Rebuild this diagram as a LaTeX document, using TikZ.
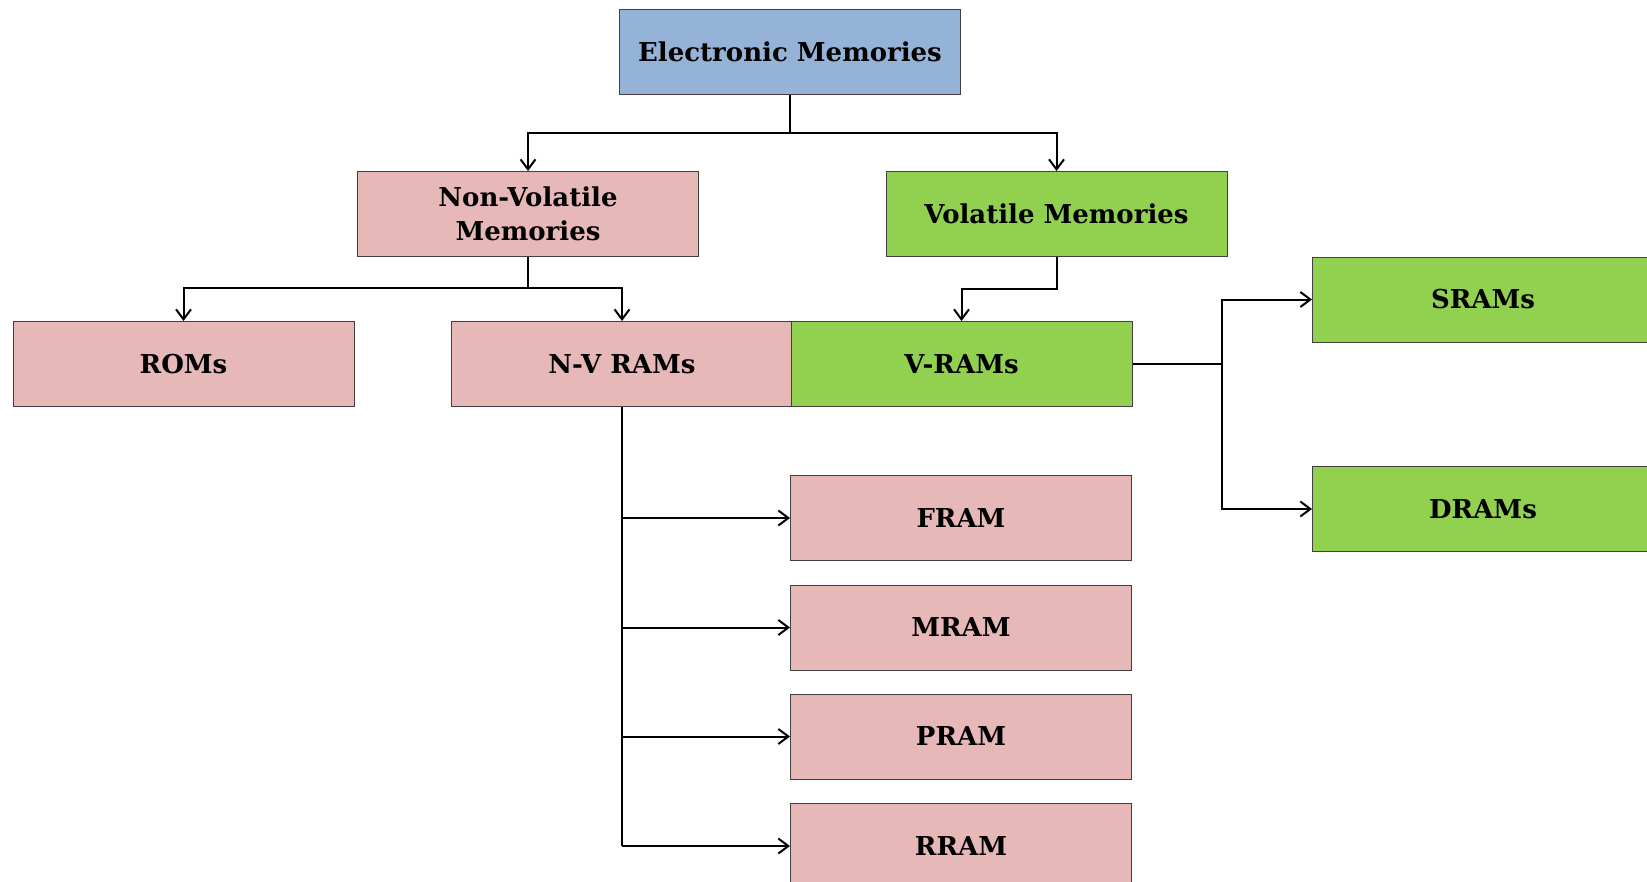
\documentclass[tikz,border=0pt]{standalone}
\usepackage{fontspec}
\setmainfont{DejaVu Serif}
\usetikzlibrary{arrows.meta}
\definecolor{emblue}{HTML}{95B3D7}
\definecolor{nvpink}{HTML}{E6B8B7}
\definecolor{vgreen}{HTML}{92D050}
\tikzset{
    membox/.style={draw=black!75, line width=0.5pt, minimum width=170.5pt, minimum height=42.5pt,
        inner sep=2pt, align=center, font=\fontsize{13}{17}\selectfont\bfseries},
    conn/.style={line width=1pt},
    arr/.style={conn, -{Straight Barb[length=5pt,width=7.5pt]}}
}
\begin{document}
\begin{tikzpicture}[x=0.5pt, y=-0.5pt]
        \useasboundingbox (0,0) rectangle (1647,882);
        \clip (0,0) rectangle (1647,882);
        \node[membox, fill=emblue] (em) at (790,52) {Electronic Memories};
        \node[membox, fill=nvpink] (nv) at (528,214) {Non-Volatile\\Memories};
        \node[membox, fill=vgreen] (vol) at (1056.5,214) {Volatile Memories};
        \node[membox, fill=nvpink] (rom) at (183.5,364) {ROMs};
        \node[membox, fill=nvpink] (nvram) at (622,364) {N-V RAMs};
        \node[membox, fill=vgreen] (vram) at (961.5,364) {V-RAMs};
        \node[membox, fill=vgreen] (sram) at (1483,299.5) {SRAMs};
        \node[membox, fill=vgreen] (dram) at (1483,509) {DRAMs};
        \foreach \n/\y/\t in {fram/518/FRAM, mram/627.5/MRAM, pram/736.5/PRAM, rram/846/RRAM}
            \node[membox, fill=nvpink] (\n) at (961,\y) {\t};
        % branch points
        \coordinate (emsplit) at (790,133);
        \coordinate (nvsplit) at (528,288);
        \coordinate (volsplit) at (1056.5,289);
        \coordinate (vbus) at (1222,364);
        \draw[conn] (em.south) -- (emsplit);
        \draw[arr] (emsplit) -| (nv.north);
        \draw[arr] (emsplit) -| (vol.north);
        \draw[conn] (nv.south) -- (nvsplit);
        \draw[arr] (nvsplit) -| (rom.north);
        \draw[arr] (nvsplit) -| (nvram.north);
        \draw[arr] (vol.south) -- (volsplit) -| (vram.north);
        \draw[conn] (nvram.south) -- (nvram.south |- rram.west);
        \foreach \n in {fram,mram,pram,rram}
            \draw[arr] (nvram.south |- \n.west) -- (\n.west);
        \draw[conn] (vram.east) -- (vbus);
        \draw[arr] (vbus) |- (sram.west);
        \draw[arr] (vbus) |- (dram.west);
    \end{tikzpicture}
\end{document}
